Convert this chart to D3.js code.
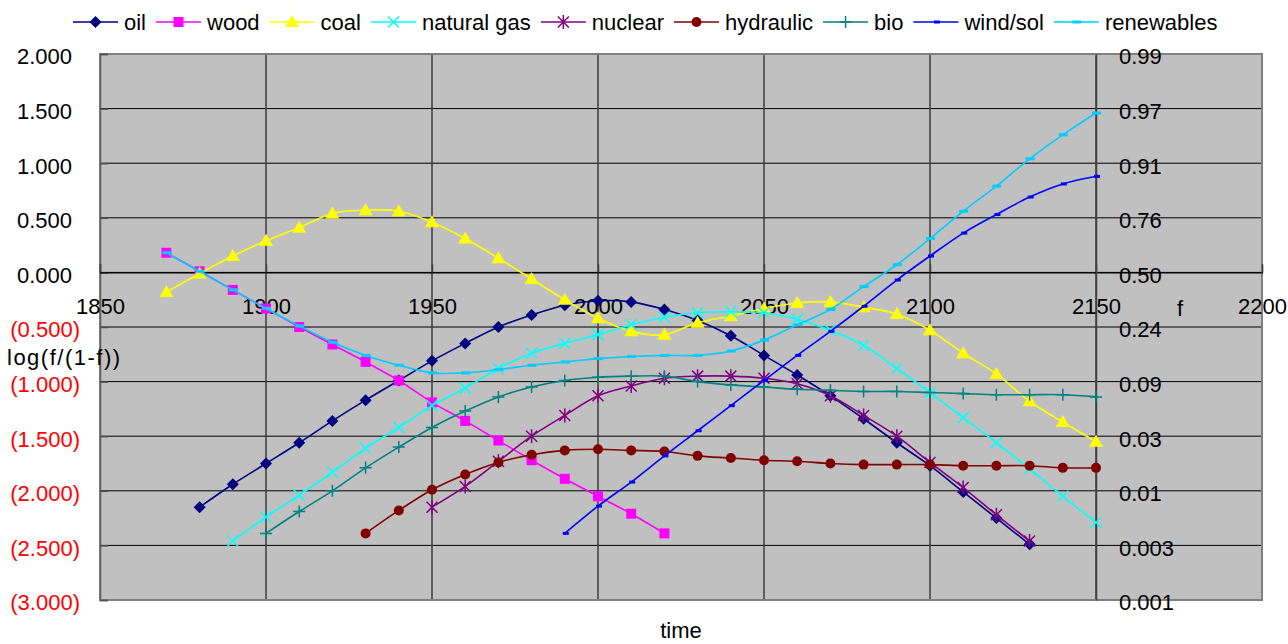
<!DOCTYPE html>
<html>
<head>
<meta charset="utf-8">
<script src="https://cdn.jsdelivr.net/npm/d3@7/dist/d3.min.js"></script>
<style>
  body { margin: 0; background: #fff; }
  svg text { font-family: "Liberation Sans", Arial, sans-serif; font-size: 22px; fill: #000; }
</style>
</head>
<body>
<svg id="chart" width="1288" height="644"></svg>
<script>
// years of the series (one point every 10 years)
const years = [1870, 1880, 1890, 1900, 1910, 1920, 1930, 1940, 1950, 1960,
               1970, 1980, 1990, 2000, 2010, 2020, 2030, 2040, 2050, 2060,
               2070, 2080, 2090, 2100, 2110, 2120, 2130, 2140, 2150];

// log(f/(1-f)), null = no point
const oil = [null, -2.15, -1.94, -1.75, -1.56, -1.36, -1.17, -0.99, -0.81, -0.65,
             -0.50, -0.39, -0.30, -0.26, -0.27, -0.34, -0.44, -0.58, -0.76, -0.94,
             -1.13, -1.34, -1.56, -1.77, -2.01, -2.25, -2.49, null, null];
const wood = [0.18, 0.01, -0.16, -0.33, -0.50, -0.66, -0.82, -0.99, -1.19, -1.36,
              -1.54, -1.72, -1.89, -2.05, -2.21, -2.39, null, null, null, null,
              null, null, null, null, null, null, null, null, null];
const coal = [-0.18, -0.01, 0.15, 0.29, 0.41, 0.54, 0.57, 0.56, 0.46, 0.31,
              0.13, -0.06, -0.25, -0.42, -0.54, -0.57, -0.46, -0.40, -0.33, -0.28,
              -0.27, -0.32, -0.38, -0.53, -0.74, -0.93, -1.18, -1.37, -1.55];
const naturalGas = [null, null, -2.46, -2.24, -2.04, -1.83, -1.61, -1.42, -1.22, -1.06,
                    -0.88, -0.74, -0.65, -0.57, -0.48, -0.41, -0.37, -0.36, -0.37, -0.43,
                    -0.53, -0.67, -0.88, -1.10, -1.33, -1.56, -1.80, -2.05, -2.29];
const nuclear = [null, null, null, null, null, null, null, null, -2.15, -1.96,
                 -1.73, -1.50, -1.31, -1.13, -1.04, -0.97, -0.95, -0.95, -0.97, -1.02,
                 -1.13, -1.31, -1.50, -1.74, -1.97, -2.22, -2.46, null, null];
const hydraulic = [null, null, null, null, null, null, -2.39, -2.18, -1.99, -1.85,
                   -1.74, -1.67, -1.63, -1.62, -1.63, -1.64, -1.68, -1.70, -1.72, -1.73,
                   -1.75, -1.76, -1.76, -1.76, -1.77, -1.77, -1.77, -1.79, -1.79];
const bio = [null, null, null, -2.39, -2.19, -2.00, -1.79, -1.60, -1.42, -1.27,
             -1.14, -1.05, -0.99, -0.96, -0.95, -0.95, -1.00, -1.03, -1.05, -1.07,
             -1.08, -1.09, -1.09, -1.10, -1.11, -1.12, -1.12, -1.12, -1.14];
const windSol = [null, null, null, null, null, null, null, null, null, null,
                 null, null, -2.39, -2.14, -1.92, -1.68, -1.45, -1.22, -0.99, -0.76,
                 -0.54, -0.31, -0.07, 0.15, 0.36, 0.53, 0.69, 0.81, 0.88];
const renewables = [0.18, 0.01, -0.16, -0.33, -0.49, -0.64, -0.76, -0.85, -0.92, -0.92,
                    -0.89, -0.85, -0.82, -0.79, -0.77, -0.76, -0.76, -0.72, -0.62, -0.48,
                    -0.34, -0.13, 0.07, 0.31, 0.56, 0.79, 1.04, 1.26, 1.46];

const seriesNames = ['oil', 'wood', 'coal', 'natural gas', 'nuclear', 'hydraulic', 'bio', 'wind/sol', 'renewables'];
const seriesValues = [oil, wood, coal, naturalGas, nuclear, hydraulic, bio, windSol, renewables];

const xTicks = [1850, 1900, 1950, 2000, 2050, 2100, 2150, 2200];
const yTicks = [-3, -2.5, -2, -1.5, -1, -0.5, 0, 0.5, 1, 1.5, 2];
const fTickLabels = ['0.001', '0.003', '0.01', '0.03', '0.09', '0.24', '0.50', '0.76', '0.91', '0.97', '0.99'];

// look of each series
const styles = [
  { color: '#000080', marker: 'diamond' },
  { color: '#ff00ff', marker: 'square' },
  { color: '#ffff00', marker: 'triangle' },
  { color: '#00ffff', marker: 'x' },
  { color: '#800080', marker: 'star' },
  { color: '#800000', marker: 'circle' },
  { color: '#008080', marker: 'plus' },
  { color: '#0000ff', marker: 'dash' },
  { color: '#00ccff', marker: 'wdash' }
];

const svg = d3.select('#chart');
const plot = { left: 100, right: 1262, top: 54, bottom: 600 };

const x = d3.scaleLinear().domain([1850, 2200]).range([plot.left, plot.right]);
const y = d3.scaleLinear().domain([-3, 2]).range([plot.bottom, plot.top]);

// plot background
svg.append('rect')
  .attr('x', plot.left).attr('y', plot.top)
  .attr('width', plot.right - plot.left).attr('height', plot.bottom - plot.top)
  .attr('fill', '#c0c0c0');

// horizontal gridlines
svg.append('g').selectAll('line')
  .data(yTicks.filter(d => d > -3 && d < 2))
  .enter().append('line')
  .attr('x1', plot.left).attr('x2', plot.right)
  .attr('y1', d => y(d)).attr('y2', d => y(d))
  .attr('stroke', '#000').attr('stroke-width', 1);

// vertical gridlines
svg.append('g').selectAll('line')
  .data(xTicks.filter(d => d > 1850 && d < 2200))
  .enter().append('line')
  .attr('x1', d => x(d)).attr('x2', d => x(d))
  .attr('y1', plot.top).attr('y2', plot.bottom)
  .attr('stroke', '#3c3c3c').attr('stroke-width', 1.5);

// plot border
svg.append('rect')
  .attr('x', plot.left).attr('y', plot.top)
  .attr('width', plot.right - plot.left).attr('height', plot.bottom - plot.top)
  .attr('fill', 'none').attr('stroke', '#808080').attr('stroke-width', 2);

// left axis (Excel style negatives in red with brackets)
const num = d3.format('.3f');
const leftAxis = svg.append('g')
  .attr('transform', `translate(${plot.left},0)`)
  .call(d3.axisLeft(y).tickValues(yTicks).tickSize(-8).tickPadding(20)
    .tickFormat(d => d < 0 ? `(${num(-d)})` : num(d)));
leftAxis.select('.domain').attr('stroke', '#606060').attr('stroke-width', 1.5);
leftAxis.selectAll('.tick line').attr('stroke', '#505050').attr('stroke-width', 1.5);
leftAxis.selectAll('.tick text')
  .attr('dy', '0.45em')
  .attr('dx', d => d < 0 ? 0 : -8)
  .style('fill', d => d < 0 ? '#ff0000' : '#000');

// x axis crossing at 0
const bottomAxis = svg.append('g')
  .attr('transform', `translate(0,${y(0)})`)
  .call(d3.axisBottom(x).tickValues(xTicks).tickSize(-8).tickPadding(26).tickFormat(d3.format('d')));
bottomAxis.select('.domain').attr('stroke', '#000').attr('stroke-width', 1.2);
bottomAxis.selectAll('.tick line').attr('stroke', '#404040').attr('stroke-width', 1.5);

// right axis with f values, crossing at 2150
const rightAxis = svg.append('g')
  .attr('transform', `translate(${x(2150)},0)`)
  .call(d3.axisRight(y).tickValues(yTicks).tickSize(0).tickPadding(23)
    .tickFormat((d, i) => fTickLabels[i]));
rightAxis.select('.domain').attr('stroke', '#404040').attr('stroke-width', 1.5);
rightAxis.selectAll('.tick text').attr('dy', '0.45em');

// axis titles
svg.append('text').attr('x', 7).attr('y', 365)
  .style('letter-spacing', '1.5px').text('log(f/(1-f))');
svg.append('text').attr('x', 1180).attr('y', 316).attr('text-anchor', 'middle').text('f');
svg.append('text').attr('x', (plot.left + plot.right) / 2).attr('y', 638)
  .attr('text-anchor', 'middle').text('time');

// marker drawing
function drawMarker(sel, type, color) {
  if (type === 'diamond') {
    sel.append('path').attr('d', 'M0,-6L6,0L0,6L-6,0Z').attr('fill', color);
  } else if (type === 'square') {
    sel.append('rect').attr('x', -5).attr('y', -5).attr('width', 10).attr('height', 10).attr('fill', color);
  } else if (type === 'triangle') {
    sel.append('path').attr('d', 'M0,-7L7,5L-7,5Z').attr('fill', color);
  } else if (type === 'x') {
    sel.append('path').attr('d', 'M-5.5,-5.5L5.5,5.5M-5.5,5.5L5.5,-5.5')
      .attr('stroke', color).attr('stroke-width', 1.5).attr('fill', 'none');
  } else if (type === 'star') {
    sel.append('path').attr('d', 'M-5.5,-5.5L5.5,5.5M-5.5,5.5L5.5,-5.5M0,-7V7')
      .attr('stroke', color).attr('stroke-width', 1.5).attr('fill', 'none');
  } else if (type === 'circle') {
    sel.append('circle').attr('r', 5).attr('fill', color);
  } else if (type === 'plus') {
    sel.append('path').attr('d', 'M-6,0H6M0,-6V6')
      .attr('stroke', color).attr('stroke-width', 1.5).attr('fill', 'none');
  } else if (type === 'dash') {
    sel.append('rect').attr('x', -2).attr('y', -1.5).attr('width', 6).attr('height', 3).attr('fill', color);
  } else if (type === 'wdash') {
    sel.append('rect').attr('x', -4).attr('y', -1.5).attr('width', 9).attr('height', 3).attr('fill', color);
  }
}

// series lines and markers
const line = d3.line()
  .defined(d => d.v !== null)
  .x(d => x(d.year))
  .y(d => y(d.v))
  .curve(d3.curveCatmullRom.alpha(0));

seriesValues.forEach((vals, i) => {
  const pts = years.map((yr, j) => ({ year: yr, v: vals[j] }));
  const g = svg.append('g');
  g.append('path')
    .datum(pts)
    .attr('d', line)
    .attr('fill', 'none')
    .attr('stroke', styles[i].color)
    .attr('stroke-width', 1.6);
  g.selectAll('g.m')
    .data(pts.filter(d => d.v !== null))
    .enter().append('g')
    .attr('class', 'm')
    .attr('transform', d => `translate(${x(d.year)},${y(d.v)})`)
    .each(function () { drawMarker(d3.select(this), styles[i].marker, styles[i].color); });
});

// legend
const legend = svg.append('g').attr('transform', 'translate(0,22)');
let lx = 73;
seriesNames.forEach((name, i) => {
  const item = legend.append('g').attr('transform', `translate(${lx},0)`);
  item.append('line').attr('x1', 0).attr('x2', 45).attr('y1', 0).attr('y2', 0)
    .attr('stroke', styles[i].color).attr('stroke-width', 1.6);
  drawMarker(item.append('g').attr('transform', 'translate(22.5,0)'), styles[i].marker, styles[i].color);
  const t = item.append('text').attr('x', 51).attr('y', 0).attr('dy', '0.35em').text(name);
  lx += 51 + t.node().getComputedTextLength() + 10;
});
</script>
</body>
</html>
